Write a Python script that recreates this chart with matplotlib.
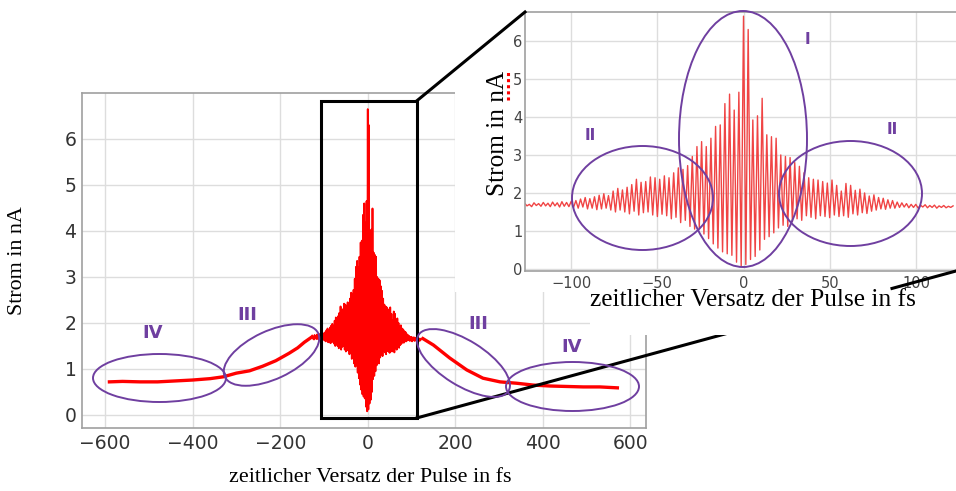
import numpy as np
import matplotlib.pyplot as plt
from matplotlib.patches import Ellipse, Rectangle
from matplotlib.lines import Line2D

# interferogram: one max and one min per optical cycle
PERIOD = 2.7          # fs, spacing of the maxima
N_FIRST = -47         # index of first cycle (t = n * PERIOD)
upper_peaks = [
    1.73, 1.70, 1.74, 1.72, 1.75, 1.73, 1.76, 1.74, 1.77, 1.75,
    1.78, 1.80, 1.84, 1.88, 1.85, 1.90, 1.94, 1.98, 1.93, 2.05,
    2.12, 2.08, 2.15, 2.22, 2.36, 2.28, 2.30, 2.42, 2.40, 2.36,
    2.45, 2.40, 2.53, 2.66, 2.62, 2.72, 2.96, 3.22, 3.35, 3.22,
    3.44, 3.75, 3.79, 4.35, 4.60, 4.18, 4.65, 6.65, 6.30, 3.92,
    4.03, 4.49, 3.53, 3.48, 3.44, 3.00, 2.96, 2.93, 2.80, 2.70,
    2.53, 2.40, 2.36, 2.34, 2.30, 2.26, 2.34, 2.20, 2.05, 2.25,
    2.20, 2.07, 2.10, 2.00, 1.92, 1.95, 1.88, 1.86, 1.82, 1.80,
    1.76, 1.74, 1.72, 1.70, 1.70, 1.68, 1.69, 1.67, 1.68, 1.66,
    1.67, 1.65, 1.66,
]
lower_troughs = [
    1.66, 1.64, 1.67, 1.65, 1.66, 1.64, 1.66, 1.63, 1.65, 1.64,
    1.62, 1.60, 1.63, 1.58, 1.60, 1.56, 1.58, 1.60, 1.55, 1.50,
    1.55, 1.50, 1.45, 1.52, 1.42, 1.48, 1.50, 1.42, 1.38, 1.44,
    1.40, 1.32, 1.36, 1.22, 1.28, 1.12, 1.05, 1.08, 0.92, 0.80,
    0.66, 0.55, 0.45, 0.40, 0.36, 0.18, 0.08, 0.12, 0.25, 0.33,
    0.50, 0.78, 0.85, 0.95, 1.08, 1.15, 1.12, 1.25, 1.32, 1.28,
    1.40, 1.36, 1.32, 1.40, 1.38, 1.35, 1.42, 1.38, 1.40, 1.36,
    1.45, 1.42, 1.48, 1.46, 1.52, 1.55, 1.58, 1.57, 1.60, 1.60,
    1.62, 1.63, 1.61, 1.62, 1.60, 1.63, 1.61, 1.62, 1.60, 1.62,
    1.61, 1.62,
]

# slow wings outside the zoomed window
left_wing_t = [-590, -560, -520, -480, -440, -400, -360, -330, -300, -270,
               -240, -210, -180, -160, -145, -130]
left_wing_i = [0.72, 0.73, 0.72, 0.72, 0.74, 0.76, 0.79, 0.83, 0.91, 0.96,
               1.06, 1.18, 1.34, 1.46, 1.58, 1.68]
right_wing_t = [126, 150, 187, 226, 263, 302, 340, 378, 416, 454, 492, 530, 570]
right_wing_i = [1.66, 1.52, 1.24, 0.98, 0.80, 0.72, 0.69, 0.65, 0.63, 0.62,
                0.61, 0.61, 0.59]

main_xticks = [-600, -400, -200, 0, 200, 400, 600]
inset_xticks = [-100, -50, 0, 50, 100]
yticks = [0, 1, 2, 3, 4, 5, 6]

XLABEL = 'zeitlicher Versatz der Pulse in fs'
YLABEL = 'Strom in nA'
PURPLE = '#6f3fa0'
SERIF = 'Liberation Serif'

W, H = 956, 491


def box(x0, y0, x1, y1):
    return [x0 / W, 1 - y1 / H, (x1 - x0) / W, (y1 - y0) / H]


def fxy(x, y):
    return x / W, 1 - y / H


# interleave maxima and minima into one trace
t_up = (np.arange(len(upper_peaks)) + N_FIRST) * PERIOD
t_lo = t_up[:len(lower_troughs)] + PERIOD / 2
center_t = np.empty(len(t_up) + len(t_lo))
center_i = np.empty_like(center_t)
center_t[0::2], center_t[1::2] = t_up, t_lo
center_i[0::2], center_i[1::2] = upper_peaks, lower_troughs

fig = plt.figure(figsize=(W / 100, H / 100), dpi=100)
ax = fig.add_axes(box(82, 93, 646, 428), zorder=0)
ins = fig.add_axes(box(525, 12, 956, 271), zorder=2)


def style(a, size, color, xpad, ypad):
    a.grid(color='#dddddd', lw=1.0)
    a.set_axisbelow(True)
    for s in a.spines.values():
        s.set_color('#a0a0a0')
        s.set_linewidth(1.2)
    a.tick_params(length=0, labelsize=size, labelcolor=color)
    a.tick_params(axis='x', pad=xpad)
    a.tick_params(axis='y', pad=ypad)


# main plot
ax.plot(left_wing_t, left_wing_i, color='red', lw=2.4)
ax.plot(right_wing_t, right_wing_i, color='red', lw=2.4)
ax.plot(np.r_[left_wing_t[-1], center_t, right_wing_t[0]],
        np.r_[left_wing_i[-1], center_i, right_wing_i[0]], color='red', lw=1.3)
ax.set_xlim(-652.6, 635.4)
ax.set_ylim(-0.283, 7.0)
ax.set_xticks(main_xticks)
ax.set_yticks(yticks)
style(ax, 13.5, '#333333', 4, 4)
ax.add_patch(Rectangle((-107.4, -0.065), 219.4, 6.895, fill=False,
                       ec='black', lw=2.2, zorder=5))

# inset
ins.plot(center_t, center_i, color='#f04444', lw=1.0)
ins.set_xlim(-126.7, 123.2)
ins.set_ylim(-0.053, 6.76)
ins.set_xticks(inset_xticks)
ins.set_yticks(yticks)
style(ins, 10.5, '#444444', 3.5, 2)
ins.spines['right'].set_visible(False)

# pasted screenshot covers the upper right of the main plot
for x0, y1 in [(455, 292), (590, 335)]:
    fig.add_artist(Rectangle(fxy(x0, y1), (W - x0) / W, y1 / H,
                             transform=fig.transFigure, fc='white', ec='none',
                             zorder=1))

# zoom connector lines
to_fig = fig.transFigure.inverted().transform
p_rt = to_fig(ax.transData.transform((112.0, 6.83)))
p_rb = to_fig(ax.transData.transform((112.0, -0.065)))
p_it = to_fig(ins.transAxes.transform((0, 1)))
p_ib = to_fig(ins.transAxes.transform((1, 0)))
fig.add_artist(Line2D([p_rt[0], p_it[0]], [p_rt[1], p_it[1]],
                      transform=fig.transFigure, color='black', lw=2.2, zorder=4))
fig.add_artist(Line2D([p_rb[0], p_ib[0]], [p_rb[1], p_ib[1]],
                      transform=fig.transFigure, color='black', lw=2.2, zorder=0.5))
f = (892 / W - p_rb[0]) / (p_ib[0] - p_rb[0])
p_mid = p_rb + f * (p_ib - p_rb)
fig.add_artist(Line2D([p_mid[0], p_ib[0]], [p_mid[1], p_ib[1]],
                      transform=fig.transFigure, color='black', lw=2.2, zorder=4))


def ellipse(cx, cy, w, h, ang, z):
    fig.add_artist(Ellipse((cx / 100, (H - cy) / 100), w / 100, h / 100,
                           angle=ang, transform=fig.dpi_scale_trans, fill=False,
                           ec=PURPLE, lw=1.4, zorder=z))


def region(x, y, s, size, z):
    fig.text(*fxy(x, y), s, color=PURPLE, weight='bold', size=size,
             ha='center', va='center', zorder=z)


# regions in the main plot
ellipse(159.5, 378, 133, 48, 0, 0.6)
ellipse(271.5, 355, 103, 48, 25, 0.6)
ellipse(463.5, 363, 106, 45, -32, 0.6)
ellipse(572.5, 386.5, 133, 49, 0, 0.6)
region(153, 333, 'IV', 13, 0.6)
region(247, 315, 'III', 13, 0.6)
region(478, 324, 'III', 13, 0.6)
region(572, 347, 'IV', 13, 0.6)

# regions in the inset
ellipse(743, 139, 128, 256, 0, 3)
ellipse(642.5, 198, 141, 104, 0, 3)
ellipse(850.5, 193.5, 143, 105, 0, 3)
region(807, 40, 'I', 11, 3)
region(590, 136, 'II', 11, 3)
region(892, 129, 'II', 11, 3)

# axis labels
fig.text(*fxy(18, 261), YLABEL, rotation=90, ha='center', va='center',
         family=SERIF, size=15.8)
fig.text(*fxy(370, 478), XLABEL, ha='center', va='center',
         family=SERIF, size=15.8)
fig.text(*fxy(498, 133), YLABEL, rotation=90, ha='center', va='center',
         family=SERIF, size=18.2, zorder=5)
fig.text(*fxy(753, 300), XLABEL, ha='center', va='center',
         family=SERIF, size=18.3, zorder=5)
# spell-check mark under "nA"
fig.add_artist(Line2D([508 / W, 508 / W], [1 - 100 / H, 1 - 72 / H],
                      transform=fig.transFigure, color='red', lw=2.2,
                      ls=(0, (1, 1)), zorder=5))

fig.savefig('out.png', dpi=100)
